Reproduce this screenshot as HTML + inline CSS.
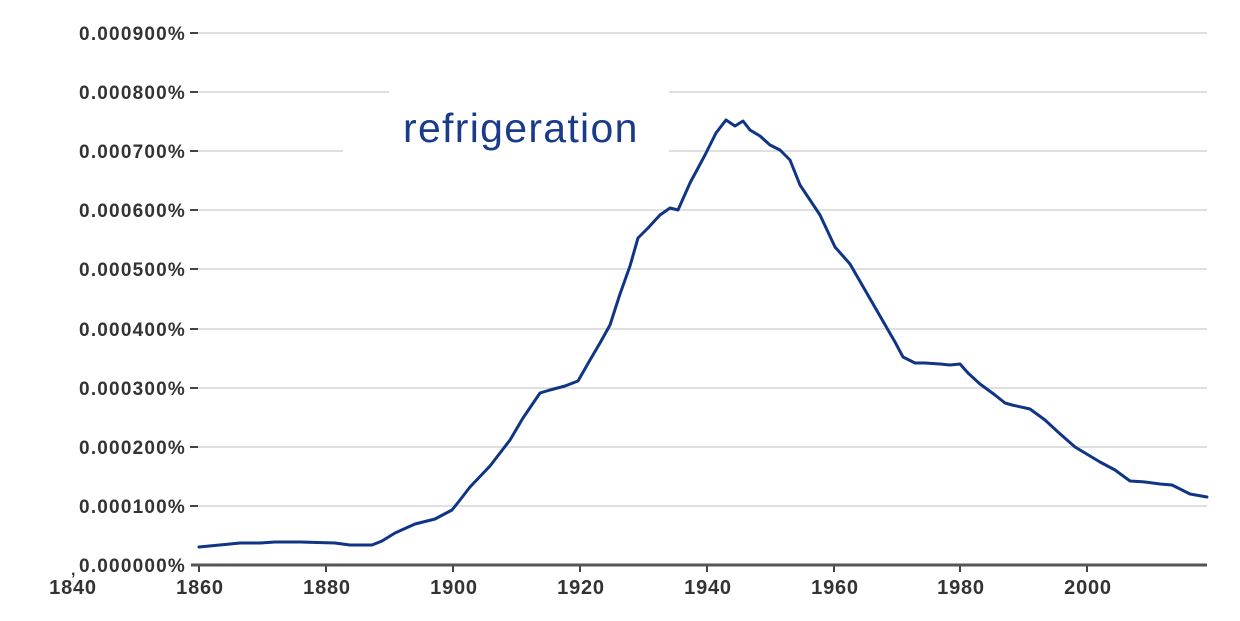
<!DOCTYPE html>
<html><head><meta charset="utf-8"><style>
html,body{margin:0;padding:0;background:#fff;width:1240px;height:621px;overflow:hidden}
text{font-family:"Liberation Sans",sans-serif;font-weight:bold;fill:#333}
</style></head><body>
<svg width="1240" height="621" viewBox="0 0 1240 621" xmlns="http://www.w3.org/2000/svg">
<g stroke="#d6d6d6" stroke-width="1.5">
<line x1="198" x2="1207" y1="33" y2="33"/>
<line x1="198" x2="1207" y1="92" y2="92"/>
<line x1="198" x2="1207" y1="151" y2="151"/>
<line x1="198" x2="1207" y1="210" y2="210"/>
<line x1="198" x2="1207" y1="269" y2="269"/>
<line x1="198" x2="1207" y1="329" y2="329"/>
<line x1="198" x2="1207" y1="388" y2="388"/>
<line x1="198" x2="1207" y1="447" y2="447"/>
<line x1="198" x2="1207" y1="506" y2="506"/>
</g>
<rect x="389" y="80" width="280" height="80" fill="#fff"/>
<rect x="343" y="140" width="50" height="20" fill="#fff"/>
<g stroke="#444" stroke-width="2">
<line x1="190" x2="198" y1="33" y2="33"/><line x1="190" x2="198" y1="92" y2="92"/>
<line x1="190" x2="198" y1="151" y2="151"/><line x1="190" x2="198" y1="210" y2="210"/>
<line x1="190" x2="198" y1="269" y2="269"/><line x1="190" x2="198" y1="329" y2="329"/>
<line x1="190" x2="198" y1="388" y2="388"/><line x1="190" x2="198" y1="447" y2="447"/>
<line x1="190" x2="198" y1="506" y2="506"/>
<line x1="199" x2="199" y1="565" y2="572"/><line x1="326" x2="326" y1="565" y2="572"/>
<line x1="453" x2="453" y1="565" y2="572"/><line x1="580" x2="580" y1="565" y2="572"/>
<line x1="707" x2="707" y1="565" y2="572"/><line x1="834" x2="834" y1="565" y2="572"/>
<line x1="960" x2="960" y1="565" y2="572"/><line x1="1087" x2="1087" y1="565" y2="572"/>
</g>
<line x1="191" x2="1207" y1="565" y2="565" stroke="#555" stroke-width="3"/>
<g font-size="19" text-anchor="end" letter-spacing="1.2">
<text x="186" y="40">0.000900%</text><text x="186" y="99">0.000800%</text>
<text x="186" y="158">0.000700%</text><text x="186" y="217">0.000600%</text>
<text x="186" y="276">0.000500%</text><text x="186" y="336">0.000400%</text>
<text x="186" y="395">0.000300%</text><text x="186" y="454">0.000200%</text>
<text x="186" y="513">0.000100%</text><text x="186" y="572">0.000000%</text>
</g>
<text x="71" y="575" font-size="16">,</text>
<g font-size="20" text-anchor="middle" letter-spacing="0.8">
<text x="73" y="594">1840</text><text x="200" y="594">1860</text><text x="327" y="594">1880</text>
<text x="454" y="594">1900</text><text x="581" y="594">1920</text><text x="708" y="594">1940</text>
<text x="835" y="594">1960</text><text x="961" y="594">1980</text><text x="1088" y="594">2000</text>
</g>
<text x="403" y="142" font-size="41" letter-spacing="1.3" style="font-weight:normal;fill:#1a3a8a">refrigeration</text>
<polyline fill="none" stroke="#0f3584" stroke-width="3" stroke-linejoin="round" stroke-linecap="round" points="199,547 230,544 240,543 260,543 275,542 300,542 335,543 350,545 372,545 382,541 395,533 415,524 435,519 452,510 460,500 470,487 490,466 510,440 523,418 540,393 550,390 565,386 578,381 590,360 600,343 610,325 620,294 630,266 638,238 648,228 660,215 670,208 678,210 690,183 705,155 716,133 726,120 735,126 743,121 750,130 760,136 770,145 780,150 790,160 800,185 810,200 820,215 835,247 850,264 865,290 880,316 895,342 903,357 915,363 925,363 940,364 950,365 960,364 968,373 980,384 995,395 1005,403 1012,405 1030,409 1045,420 1058,432 1075,447 1090,456 1100,462 1115,470 1130,481 1145,482 1160,484 1172,485 1180,489 1190,494 1207,497"/>
</svg>
</body></html>
